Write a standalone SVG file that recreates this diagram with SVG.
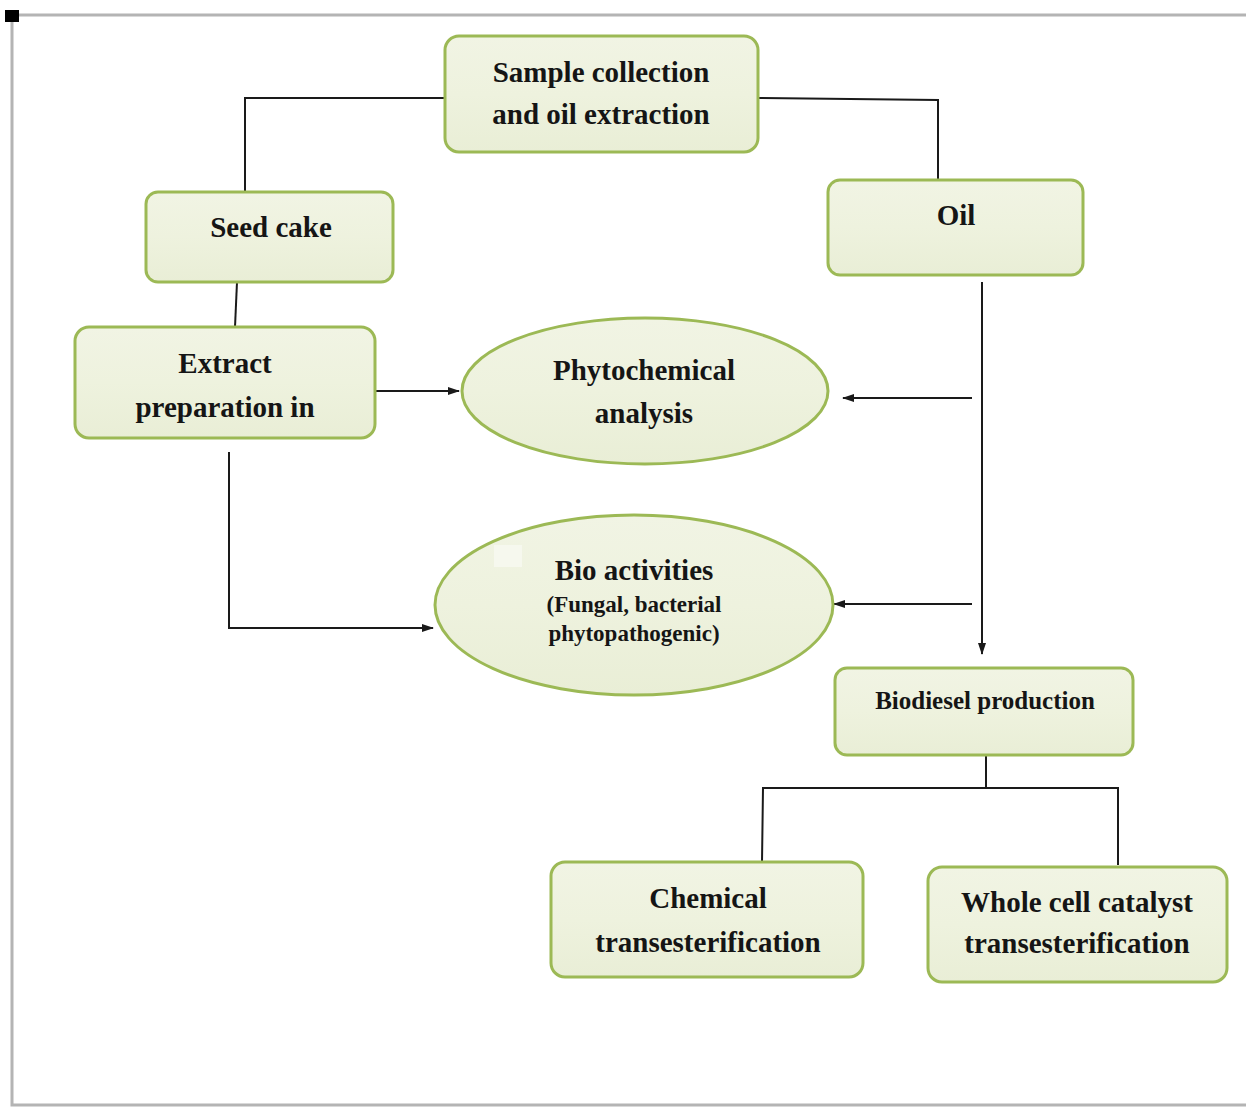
<svg xmlns="http://www.w3.org/2000/svg" width="1246" height="1108" viewBox="0 0 1246 1108">
<defs>
<style>
.box{fill:url(#g);stroke:#9cb955;stroke-width:3}
.t{font-family:"Liberation Serif","Times New Roman",serif;font-weight:bold;fill:#151515;text-anchor:middle}
.t29{font-size:29px}
.t25{font-size:25px}
.t23{font-size:23px}
.c{fill:none;stroke:#1a1a1a;stroke-width:2}
.frame{stroke:#b4b4b4;stroke-width:3;fill:none}
</style>
<linearGradient id="g" x1="0" y1="0" x2="0" y2="1">
<stop offset="0" stop-color="#f1f4e4"/>
<stop offset="0.5" stop-color="#eef2de"/>
<stop offset="1" stop-color="#e9eed6"/>
</linearGradient>
<marker id="ah" viewBox="0 0 12 10" refX="11" refY="5" markerWidth="12" markerHeight="10" markerUnits="userSpaceOnUse" orient="auto">
<path d="M0,1 L12,5 L0,9 z" fill="#1a1a1a"/>
</marker>
</defs>
<rect width="1246" height="1108" fill="#ffffff"/>
<g id="frame">
<path class="frame" d="M12,15 H1246 M12,15 V1105 H1246"/>
<rect x="5" y="10" width="14" height="12" fill="#000"/>
</g>
<g id="connectors">
<path class="c" d="M445,98 H245 V192"/>
<path class="c" d="M758,98 L938,100 V180"/>
<path class="c" d="M237,282 L235,327"/>
<path class="c" d="M375,391 H459" marker-end="url(#ah)"/>
<path class="c" d="M972,398 H843" marker-end="url(#ah)"/>
<path class="c" d="M982,282 V654" marker-end="url(#ah)"/>
<path class="c" d="M229,452 V628 H433" marker-end="url(#ah)"/>
<path class="c" d="M972,604 H834" marker-end="url(#ah)"/>
<path class="c" d="M986,755 V788 M762,862 L763,788 H1118 V865"/>
</g>
<g id="sample">
<rect class="box" x="445" y="36" width="313" height="116" rx="14"/>
<text class="t t29" x="601" y="82">Sample collection</text>
<text class="t t29" x="601" y="124">and oil extraction</text>
</g>
<g id="seedcake">
<rect class="box" x="146" y="192" width="247" height="90" rx="12"/>
<text class="t t29" x="271" y="237">Seed cake</text>
</g>
<g id="oil">
<rect class="box" x="828" y="180" width="255" height="95" rx="12"/>
<text class="t t29" x="956" y="225">Oil</text>
</g>
<g id="extract">
<rect class="box" x="75" y="327" width="300" height="111" rx="14"/>
<text class="t t29" x="225" y="373">Extract</text>
<text class="t t29" x="225" y="417">preparation in</text>
</g>
<g id="phyto">
<ellipse class="box" cx="645" cy="391" rx="183" ry="73"/>
<text class="t t29" x="644" y="380">Phytochemical</text>
<text class="t t29" x="644" y="423">analysis</text>
</g>
<g id="bio">
<ellipse class="box" cx="634" cy="605" rx="199" ry="90"/>
<rect x="494" y="545" width="28" height="22" fill="#f6f8ee"/>
<text class="t t29" x="634" y="580">Bio activities</text>
<text class="t t23" x="634" y="612">(Fungal, bacterial</text>
<text class="t t23" x="634" y="641">phytopathogenic)</text>
</g>
<g id="biodiesel">
<rect class="box" x="835" y="668" width="298" height="87" rx="12"/>
<text class="t t25" x="985" y="709">Biodiesel production</text>
</g>
<g id="chemical">
<rect class="box" x="551" y="862" width="312" height="115" rx="14"/>
<text class="t t29" x="708" y="908">Chemical</text>
<text class="t t29" x="708" y="952">transesterification</text>
</g>
<g id="wholecell">
<rect class="box" x="928" y="867" width="299" height="115" rx="14"/>
<text class="t t29" x="1077" y="912">Whole cell catalyst</text>
<text class="t t29" x="1077" y="953">transesterification</text>
</g>
</svg>
